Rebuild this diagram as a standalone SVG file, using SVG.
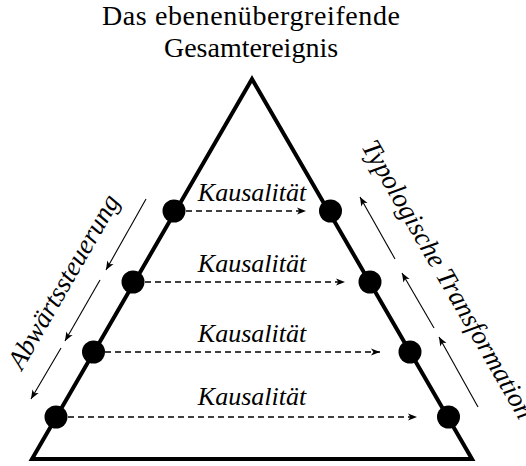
<svg xmlns="http://www.w3.org/2000/svg" width="526" height="466" viewBox="0 0 526 466">
  <style>
    .title { font-family: "Liberation Serif", "Times New Roman", serif; font-size: 28px; fill: #000; text-anchor: middle; }
    .lbl { font-family: "Liberation Serif", "Times New Roman", serif; font-style: italic; font-size: 26px; fill: #000; text-anchor: middle; }
    .side { font-family: "Liberation Serif", "Times New Roman", serif; font-style: italic; font-size: 27px; fill: #000; }
    .frame { fill: none; stroke: #000; stroke-width: 4; stroke-linejoin: miter; stroke-miterlimit: 10; }
    .dot { fill: #000; }
    .dash { fill: none; stroke: #000; stroke-width: 1.3; stroke-dasharray: 6 4; marker-end: url(#head); }
    .flow { fill: none; stroke: #000; stroke-width: 1.1; marker-end: url(#head); }
  </style>
  <defs>
    <marker id="head" markerUnits="userSpaceOnUse" markerWidth="12" markerHeight="10" viewBox="0 -5 10 10" refX="9" refY="0" orient="auto">
      <path d="M0,-3.6 L9,0 L0,3.6 L2.4,0 Z" fill="#000"/>
    </marker>
  </defs>

  <!-- heading above the apex -->
  <g id="title">
    <text class="title" x="251" y="25" textLength="298" lengthAdjust="spacing">Das ebenenübergreifende</text>
    <text class="title" x="251" y="57">Gesamtereignis</text>
  </g>

  <!-- pyramid outline -->
  <g id="pyramid">
    <path class="frame" d="M252,79 L32,459 L472,459 Z"/>
  </g>

  <!-- level labels -->
  <g id="label-1"><text class="lbl" x="252" y="201">Kausalität</text></g>
  <g id="label-2"><text class="lbl" x="252" y="272">Kausalität</text></g>
  <g id="label-3"><text class="lbl" x="252" y="342">Kausalität</text></g>
  <g id="label-4"><text class="lbl" x="252" y="405">Kausalität</text></g>

  <!-- side captions -->
  <g id="caption-left">
    <text class="side" transform="translate(22,371) rotate(-60)">Abwärtssteuerung</text>
  </g>
  <g id="caption-right">
    <text class="side" transform="translate(361,146.5) rotate(60)">Typologische Transformation</text>
  </g>

  <!-- connectors -->
  <g id="connectors">
    <line class="dash" x1="186" y1="211" x2="306" y2="211"/>
    <line class="dash" x1="145" y1="282" x2="345" y2="282"/>
    <line class="dash" x1="105" y1="352" x2="380" y2="352"/>
    <line class="dash" x1="68" y1="417" x2="417" y2="417"/>

    <line class="flow" x1="146" y1="199" x2="106" y2="270"/>
    <line class="flow" x1="100" y1="280" x2="65" y2="341"/>
    <line class="flow" x1="61" y1="348" x2="31" y2="399"/>

    <line class="flow" x1="395" y1="259" x2="360" y2="197"/>
    <line class="flow" x1="434" y1="328" x2="402" y2="273"/>
    <line class="flow" x1="478" y1="407" x2="439" y2="337"/>
  </g>

  <!-- events on the left edge -->
  <g id="left-1"><circle class="dot" cx="174" cy="211" r="11.5"/></g>
  <g id="left-2"><circle class="dot" cx="133" cy="282" r="11.5"/></g>
  <g id="left-3"><circle class="dot" cx="93.5" cy="352" r="11.5"/></g>
  <g id="left-4"><circle class="dot" cx="56" cy="417" r="11.5"/></g>

  <!-- events on the right edge -->
  <g id="right-1"><circle class="dot" cx="330.5" cy="211" r="11.5"/></g>
  <g id="right-2"><circle class="dot" cx="370" cy="282" r="11.5"/></g>
  <g id="right-3"><circle class="dot" cx="410" cy="352" r="11.5"/></g>
  <g id="right-4"><circle class="dot" cx="448.5" cy="417" r="11.5"/></g>
</svg>
